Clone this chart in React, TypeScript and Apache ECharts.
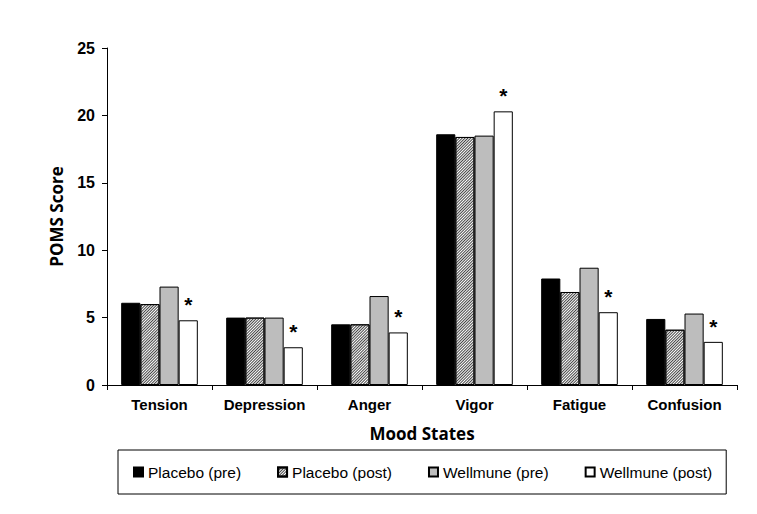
import React, { useEffect, useRef } from "react";
import * as echarts from "echarts";

const categories = ["Tension", "Depression", "Anger", "Vigor", "Fatigue", "Confusion"];
const seriesNames = ["Placebo (pre)", "Placebo (post)", "Wellmune (pre)", "Wellmune (post)"];
const placeboPre = [6.1, 5.0, 4.5, 18.6, 7.9, 4.9];
const placeboPost = [6.0, 5.0, 4.5, 18.4, 6.9, 4.1];
const wellmunePre = [7.3, 5.0, 6.6, 18.5, 8.7, 5.3];
const wellmunePost = [4.8, 2.8, 3.9, 20.3, 5.4, 3.2];
const yTicks = [0, 5, 10, 15, 20, 25];

export default function App() {
  const ref = useRef<HTMLDivElement>(null);
  useEffect(() => {
    if (!ref.current) return;
    const chart = echarts.init(ref.current, undefined, { renderer: "svg" });
    const font = "'Liberation Sans', Arial, sans-serif";
    const border = { borderColor: "#000", borderWidth: 1 };
    const mk = (name: string, data: number[], itemStyle: any, star: boolean) => ({
      name,
      type: "bar",
      data,
      barGap: "0%",
      barCategoryGap: "27%",
      itemStyle: { ...border, ...itemStyle },
      label: star
        ? {
            show: true,
            position: "top",
            distance: 5,
            formatter: "*",
            fontSize: 21,
            fontWeight: "bold",
            fontFamily: font,
            color: "#000",
          }
        : { show: false },
    });
    chart.setOption({
      animation: false,
      backgroundColor: "#fff",
      grid: { left: 107, right: 20, top: 48, bottom: 129, containLabel: false },
      legend: {
        data: seriesNames,
        left: 118,
        top: 450,
        orient: "horizontal",
        itemWidth: 9,
        itemHeight: 9,
        itemGap: 36,
        padding: [14, 14, 14, 15],
        borderColor: "#000",
        borderWidth: 1,
        textStyle: { fontFamily: font, fontSize: 15.5, color: "#000" },
        icon: "rect",
      },
      xAxis: {
        type: "category",
        data: categories,
        name: "Mood States",
        nameLocation: "middle",
        nameGap: 40,
        nameTextStyle: { fontFamily: "'Open Sans', sans-serif", fontWeight: "bold", fontSize: 17, color: "#000" },
        axisLine: { lineStyle: { color: "#000", width: 1 } },
        axisTick: { show: true, length: 5, lineStyle: { color: "#000" } },
        axisLabel: { interval: 0, fontFamily: font, fontWeight: "bold", fontSize: 15, color: "#000", margin: 12 },
      },
      yAxis: {
        type: "value",
        min: yTicks[0],
        max: yTicks[yTicks.length - 1],
        interval: 5,
        name: "POMS Score",
        nameLocation: "middle",
        nameGap: 42,
        nameTextStyle: { fontFamily: "'Open Sans', sans-serif", fontWeight: "bold", fontSize: 17, color: "#000" },
        axisLine: { show: true, lineStyle: { color: "#000", width: 1 } },
        axisTick: { show: true, length: 5, lineStyle: { color: "#000" } },
        splitLine: { show: false },
        axisLabel: { fontFamily: font, fontWeight: "bold", fontSize: 16, color: "#000", margin: 12 },
      },
      series: [
        mk(seriesNames[0], placeboPre, { color: "#000" }, false),
        mk(
          seriesNames[1],
          placeboPost,
          {
            color: "#fff",
            decal: {
              symbol: "rect",
              symbolSize: 1,
              dashArrayX: [1, 0],
              dashArrayY: [1, 1],
              rotation: -Math.PI / 4,
              color: "#444",
            },
          },
          false
        ),
        mk(seriesNames[2], wellmunePre, { color: "#bdbdbd" }, false),
        mk(seriesNames[3], wellmunePost, { color: "#fff" }, true),
      ],
    });
    return () => chart.dispose();
  }, []);
  return (
    <div
      ref={ref}
      style={{ position: "fixed", left: 0, top: 0, width: 757, height: 514, background: "#fff" }}
    />
  );
}
